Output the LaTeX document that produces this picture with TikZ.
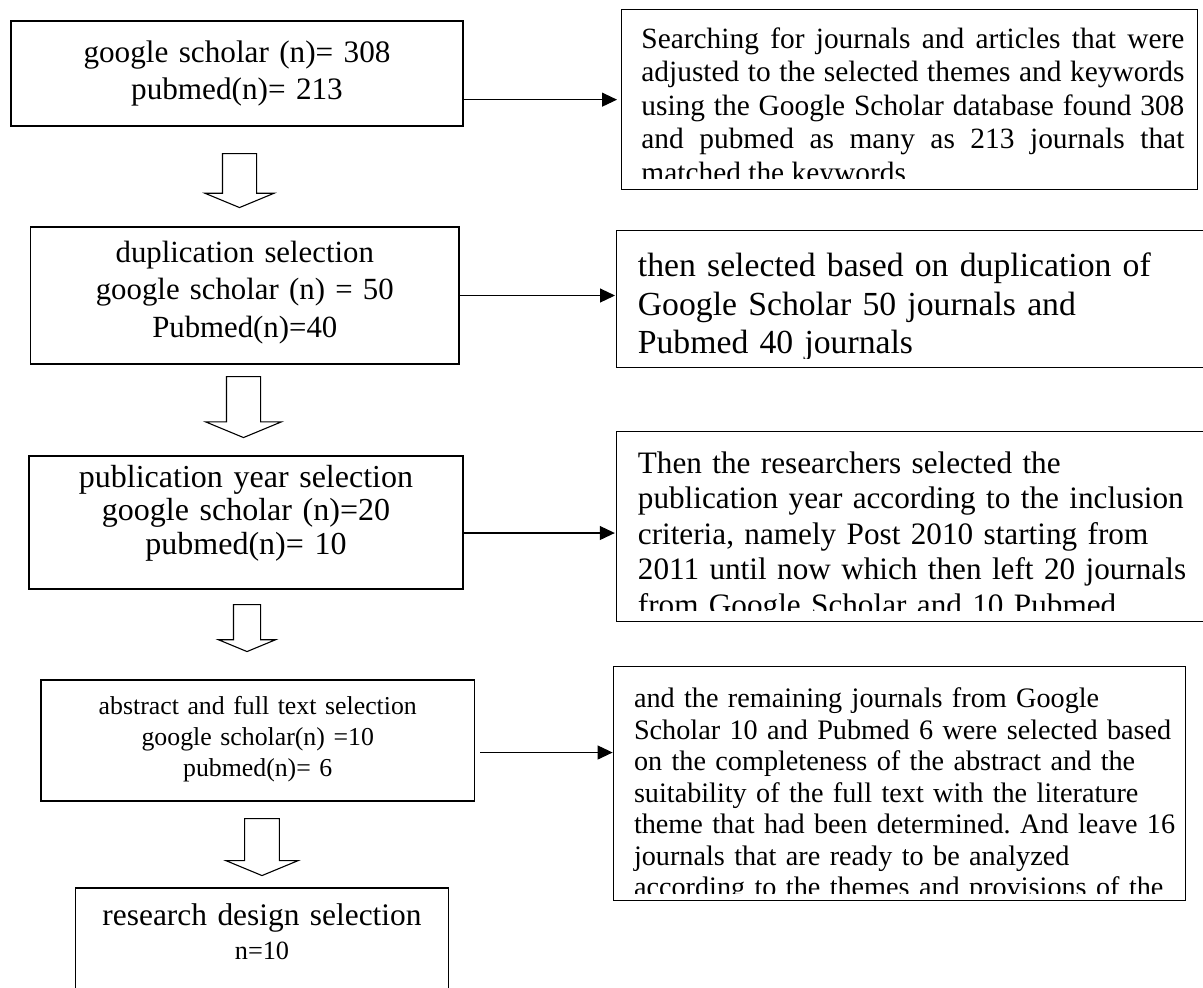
\documentclass[tikz,border=0pt]{standalone}
\usepackage{fontspec}
\setmainfont{Liberation Serif}
\usetikzlibrary{arrows.meta,shapes.arrows}
\frenchspacing

\tikzset{
    lbox/.style={draw, line width=0.65pt, inner sep=0pt, align=center, text height=0pt},
    rbox/.style={draw, line width=0.65pt, inner sep=0pt, anchor=north west},
    rtext/.style={inner sep=0pt, anchor=base west},
    conn/.style={-{Triangle[length=7.5pt,width=7pt]}, line width=0.55pt},
    downarrow/.style={single arrow, draw, line width=0.55pt, inner xsep=0pt,
        single arrow tip angle=135, rotate=-90, anchor=tail}
}

\begin{document}
\begin{tikzpicture}[x=0.5pt, y=-0.5pt]
    \useasboundingbox (0,0) rectangle (1203,987);
    \clip (0,0) rectangle (1203,987);

    \node[lbox, minimum width=226pt, minimum height=52.5pt, text width=220pt,
          text depth=11.3pt, font=\fontsize{15.6}{18.5}\selectfont]
        (box1) at (237,73.5) {google scholar (n)= 308\\pubmed(n)= 213};
    \node[lbox, minimum width=214.2pt, minimum height=68.5pt, text width=208pt,
          text depth=33.3pt, font=\fontsize{15.4}{18.75}\selectfont]
        (box2) at (244.8,295.5) {duplication selection\\google scholar (n) = 50\\Pubmed(n)=40};
    \node[lbox, minimum width=217pt, minimum height=66.5pt, text width=210pt,
          text depth=35.3pt, font=\fontsize{16}{16.75}\selectfont]
        (box3) at (246,522.5) {publication year selection\\google scholar (n)=20\\pubmed(n)= 10};
    \node[lbox, minimum width=216.75pt, minimum height=60.5pt, text width=210pt,
          text depth=26.5pt, font=\fontsize{12.9}{15.5}\selectfont]
        (box4) at (257.75,740.5) {abstract and full text selection\\google scholar(n) =10\\pubmed(n)= 6};
    \node[lbox, minimum width=186.35pt, minimum height=56pt, text width=180pt,
          text depth=18.8pt, font=\fontsize{15.7}{17}\selectfont]
        (box5) at (262,944) {research design selection\\{\fontsize{13.15}{17}\selectfont n=10}};

    \node[downarrow, minimum height=27pt, inner ysep=8.25pt,
          single arrow head extend=8.75pt] (down1) at (239.5,153) {};
    \node[downarrow, minimum height=30.5pt, inner ysep=8.25pt,
          single arrow head extend=10.4pt] (down2) at (243.5,376) {};
    \node[downarrow, minimum height=23.5pt, inner ysep=6.5pt,
          single arrow head extend=7.5pt] (down3) at (247,604) {};
    \node[downarrow, minimum height=28.5pt, inner ysep=8.4pt,
          single arrow head extend=9.35pt] (down4) at (262,818) {};

    \node[rbox, minimum width=288pt, minimum height=90pt] (rbox1) at (621,9) {};
    \node[rbox, minimum width=300pt, minimum height=68.5pt] (rbox2) at (616,230) {};
    \node[rbox, minimum width=300pt, minimum height=95pt] (rbox3) at (615.8,431) {};
    \node[rbox, minimum width=286pt, minimum height=117pt] (rbox4) at (612.6,666) {};

    \begin{scope}
        \clip (rbox1.north west) rectangle (rbox1.east |- 0,178);
        \node[rtext, text width=271.5pt, align=justify, font=\fontsize{14.7}{16.8}\selectfont]
            (note1) at (641,48) {Searching for journals and articles that were\linebreak
            adjusted to the selected themes and keywords\linebreak
            using the Google Scholar database found 308\linebreak
            and pubmed as many as 213 journals that\linebreak
            matched the keywords};
    \end{scope}
    \begin{scope}
        \clip (rbox2.north west) rectangle (rbox2.east |- 0,358);
        \node[rtext, text width=290pt, align=left, font=\fontsize{16.85}{19.25}\selectfont]
            (note2) at (637.5,276.8) {then selected based on duplication of\\
            Google Scholar 50 journals and\\Pubmed 40 journals};
    \end{scope}
    \begin{scope}
        \clip (rbox3.north west) rectangle (rbox3.east |- 0,610);
        \node[rtext, text width=290pt, align=left, font=\fontsize{15.6}{17.75}\selectfont]
            (note3) at (637.5,473.2) {Then the researchers selected the\\
            publication year according to the inclusion\\
            criteria, namely Post 2010 starting from\\
            2011 until now which then left 20 journals\\
            from Google Scholar and 10 Pubmed};
    \end{scope}
    \begin{scope}
        \clip (rbox4.north west) rectangle (rbox4.east |- 0,893);
        \node[rtext, text width=280pt, align=left, font=\fontsize{14.1}{15.75}\selectfont]
            (note4) at (633.6,707.6) {and the remaining journals from Google\\
            Scholar 10 and Pubmed 6 were selected based\\
            on the completeness of the abstract and the\\
            suitability of the full text with the literature\\
            theme that had been determined. And leave 16\\
            journals that are ready to be analyzed\\
            according to the themes and provisions of the};
    \end{scope}

    \draw[conn, shorten >=2pt] (box1.east |- rbox1.west) -- (rbox1.west);
    \draw[conn, shorten >=0.5pt] (box2.east) -- (box2.east -| rbox2.west);
    \draw[conn, shorten >=0.5pt] ([yshift=-5.25pt]box3.east) -- ([yshift=-5.25pt]box3.east -| rbox3.west);
    \draw[conn] ([xshift=2.5pt,yshift=-6pt]box4.east) -- ([yshift=-6pt]box4.east -| rbox4.west);
\end{tikzpicture}
\end{document}
